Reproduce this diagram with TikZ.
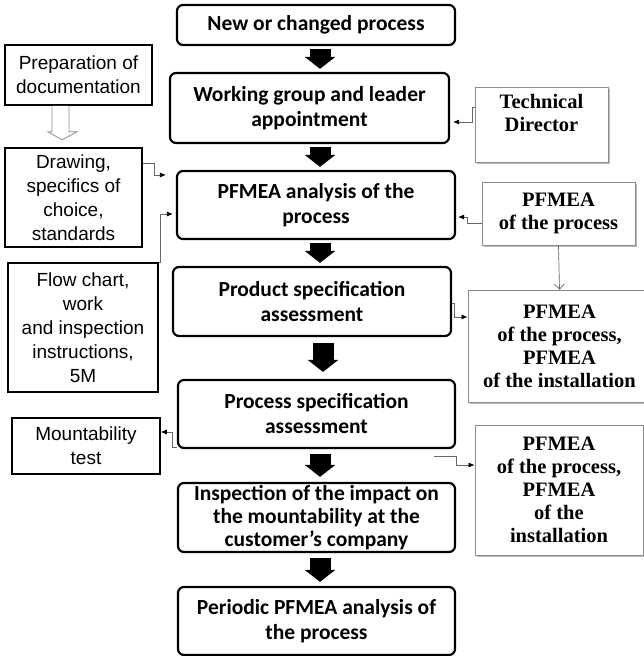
\documentclass[tikz,border=0pt]{standalone}
\usepackage{fontspec}
\setmainfont{Liberation Sans}
\newfontfamily\calibri{Carlito}
\newfontfamily\cambria{Liberation Serif}
\usetikzlibrary{arrows.meta,shadows}
\tikzset{
	mainbox/.style={draw, line width=2.2pt, rounded corners=6pt, align=center, inner sep=2pt,
		minimum width=278pt, font=\calibri\bfseries\fontsize{21.5}{25}\selectfont},
	leftbox/.style={draw, line width=1.6pt, align=center, inner sep=2pt,
		font=\fontsize{19}{24}\selectfont},
	rightbox/.style={draw=black!45, line width=0.8pt, fill=white, align=center, inner sep=2pt,
		drop shadow={shadow xshift=1.5pt, shadow yshift=-1.5pt, fill=black!45, opacity=0.6},
		font=\cambria\bfseries\fontsize{20.5}{23}\selectfont},
	blockarr/.style={line width=21pt, -{Triangle[width=30pt,length=12pt]}, shorten <=3pt, shorten >=3pt},
	conn/.style={draw=black!60, line width=0.7pt, -{Latex[color=black,length=6pt,width=5pt]}},
	openarr/.style={draw=black!60, line width=0.7pt, -{Straight Barb[length=5pt,width=10pt]}},
	hollow/.style={draw=black!45, line width=0.8pt, fill=white}
}
\begin{document}
\begin{tikzpicture}[x=1pt, y=-1pt]
			%%%%% START %%%%%
			\useasboundingbox (0,0) rectangle (643,656);
			
			% main chain
			\node[mainbox, minimum height=40pt] (n1) at (316,25) {New or changed process};
			\node[mainbox, minimum height=70pt, minimum width=279pt] (n2) at (309.5,108) {Working group and leader\\appointment};
			\node[mainbox, minimum height=68pt] (n3) at (316,205) {PFMEA analysis of the\\process};
			\node[mainbox, minimum height=69pt] (n4) at (312,301.5) {Product specification\\assessment};
			\node[mainbox, minimum height=68pt, minimum width=277pt] (n5) at (316.5,414) {Process specification\\assessment};
			\node[mainbox, minimum height=69pt, minimum width=277pt, font=\calibri\bfseries\fontsize{21.5}{23}\selectfont] (n6) at (316.5,517.5) {Inspection of the impact on\\the mountability at the\\customer’s company};
			\node[mainbox, minimum height=68pt, minimum width=277pt] (n7) at (316.5,621) {Periodic PFMEA analysis of\\the process};
			
			\coordinate (ax) at (320,0);
			\draw[blockarr] (n1.south -| ax) -- (n2.north -| ax);
			\draw[blockarr] (n2.south -| ax) -- (n3.north -| ax);
			\draw[blockarr] (n3.south -| ax) -- (n4.north -| ax);
			\draw[blockarr, shorten <=6pt, shorten >=7pt] ([xshift=3pt]n4.south -| ax) -- ([xshift=3pt]n5.north -| ax);
			\draw[blockarr, shorten <=5pt, shorten >=5pt] (n5.south -| ax) -- (n6.north -| ax);
			\draw[blockarr, shorten <=5pt, shorten >=4pt] (n6.south -| ax) -- (n7.north -| ax);
			
			% left side
			\node[leftbox, minimum width=147pt, minimum height=60pt] (prep) at (78.5,75) {Preparation of\\documentation};
			\node[leftbox, minimum width=137pt, minimum height=99pt] (drw) at (73.5,197.5) {Drawing,\\specifics of\\choice,\\standards};
			\node[leftbox, minimum width=150pt, minimum height=129pt] (flow) at (83,327.5) {Flow chart,\\work\\and inspection\\instructions,\\5M};
			\node[leftbox, minimum width=148pt, minimum height=56pt] (mount) at (86,446) {Mountability\\test};
			
			\draw[hollow] ([xshift=-26.5pt]prep.south) -- ++(0,26) -- ++(-4,0) -- ++(14,8) -- ++(15,-8) -- ++(-8,0) -- ++(0,-26);
			\draw[conn, shorten >=10pt] ([yshift=34.5pt]drw.east) -- ++(12pt,0) |- ([yshift=30pt]n3.west);
			\draw[conn, shorten >=3pt] (flow.north east) -- ++(2pt,0) |- ([yshift=-9pt]n3.west);
			\draw[conn] ([yshift=-33pt]n5.west) -- ++(-5pt,0) |- ([yshift=14pt]mount.east);
			
			% right side
			\node[rightbox, minimum width=133pt, minimum height=75pt] (td) at (541.5,124.5) {Technical\\Director\\\mbox{}};
			\node[rightbox, minimum width=153pt, minimum height=63pt] (pf1) at (558.5,213.5) {PFMEA\\of the process};
			\node[rightbox, minimum width=183pt, minimum height=112pt] (pf2) at (559.5,346) {PFMEA\\of the process,\\PFMEA\\of the installation};
			\node[rightbox, minimum width=168pt, minimum height=130pt] (pf3) at (559,490) {PFMEA\\of the process,\\PFMEA\\of the\\installation};
			
			\draw[conn, shorten >=3pt] ([yshift=17.5pt]td.west) -- ++(-2pt,0) |- ([yshift=-14pt]n2.east);
			\draw[conn, shorten >=2pt] ([yshift=-9.5pt]pf1.west) -- ++(-14pt,0) |- ([yshift=-12pt]n3.east);
			\draw[openarr] (pf1.south) -- (pf2.north);
			\draw[conn] ([yshift=-1.5pt]n4.east) -- ++(2pt,0) |- ([yshift=29pt]pf2.west);
			\draw[conn] ([xshift=-22pt,yshift=-7pt]n5.south east) -- ++(22pt,0) |- ([yshift=25pt]pf3.west);
			
			%%%%% END %%%%%
\end{tikzpicture}
\end{document}
